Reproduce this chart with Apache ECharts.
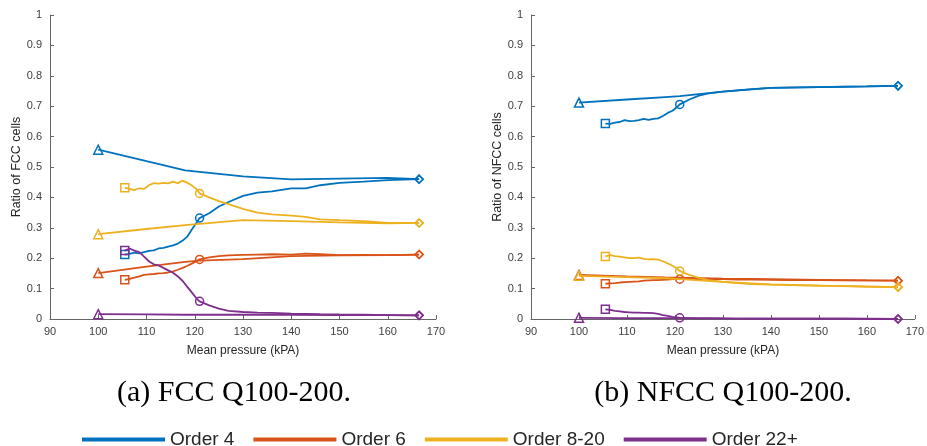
<!DOCTYPE html>
<html>
<head>
<meta charset="utf-8">
<script src="https://cdn.jsdelivr.net/npm/echarts@6/dist/echarts.min.js"></script>
<style>
html,body{margin:0;padding:0;background:#fff;}
#chart{width:927px;height:446px;}
</style>
</head>
<body>
<div id="chart"></div>
<script>
// ---------- data ----------
var seriesNames = ['Order 4', 'Order 6', 'Order 8-20', 'Order 22+'];
var colors = ['#0072BD', '#D95319', '#EDB120', '#7E2F8E'];
var xTicks = [90, 100, 110, 120, 130, 140, 150, 160, 170];
var yTicks = [0, 0.1, 0.2, 0.3, 0.4, 0.5, 0.6, 0.7, 0.8, 0.9, 1];

// x positions for the "triangle" path (starts at 100 kPa)
var xA = [100, 110, 118, 121, 130, 140, 150, 160, 166.5];
// x positions for the "square" path (starts at 105.5 kPa, circle at 121 kPa)
var xB = [105.5, 106.5, 107.5, 108.5, 109.5, 110.5, 111.5, 112.5, 113.5, 114.5, 115.5, 116.5, 117.5, 118.5, 119.5, 120.5,
          121, 123, 125, 127, 130, 133, 136, 140, 143, 146, 150, 155, 160, 166.5];
var circleX = 121;

// (a) FCC
var fccA_o4  = [0.557, 0.519, 0.489, 0.484, 0.469, 0.459, 0.462, 0.464, 0.460];
var fccA_o6  = [0.151, 0.172, 0.188, 0.192, 0.197, 0.207, 0.209, 0.210, 0.212];
var fccA_o8  = [0.279, 0.296, 0.309, 0.313, 0.325, 0.322, 0.318, 0.315, 0.316];
var fccA_o22 = [0.016, 0.015, 0.014, 0.014, 0.014, 0.014, 0.013, 0.013, 0.012];

var fccB_o4  = [0.212, 0.214, 0.218, 0.216, 0.220, 0.224, 0.226, 0.232, 0.234, 0.238, 0.242, 0.248, 0.258, 0.272, 0.297, 0.320,
                0.332, 0.348, 0.370, 0.385, 0.405, 0.416, 0.420, 0.430, 0.430, 0.440, 0.448, 0.452, 0.457, 0.460];
var fccB_o6  = [0.129, 0.132, 0.136, 0.140, 0.145, 0.147, 0.148, 0.150, 0.151, 0.153, 0.157, 0.162, 0.168, 0.175, 0.183, 0.192,
                0.196, 0.203, 0.207, 0.209, 0.211, 0.212, 0.213, 0.212, 0.215, 0.213, 0.210, 0.211, 0.210, 0.212];
var fccB_o8  = [0.432, 0.428, 0.424, 0.430, 0.428, 0.440, 0.447, 0.445, 0.448, 0.446, 0.452, 0.447, 0.455, 0.448, 0.438, 0.426,
                0.413, 0.400, 0.388, 0.378, 0.362, 0.350, 0.344, 0.340, 0.336, 0.328, 0.325, 0.322, 0.316, 0.316];
var fccB_o22 = [0.225, 0.232, 0.225, 0.220, 0.205, 0.190, 0.180, 0.176, 0.168, 0.160, 0.152, 0.140, 0.125, 0.105, 0.085, 0.065,
                0.058, 0.045, 0.034, 0.027, 0.023, 0.021, 0.020, 0.018, 0.017, 0.016, 0.015, 0.014, 0.013, 0.012];

// (b) NFCC
var nfccA_o4  = [0.712, 0.722, 0.730, 0.733, 0.748, 0.760, 0.763, 0.765, 0.767];
var nfccA_o6  = [0.145, 0.140, 0.137, 0.136, 0.133, 0.131, 0.129, 0.127, 0.126];
var nfccA_o8  = [0.142, 0.138, 0.134, 0.131, 0.122, 0.114, 0.110, 0.107, 0.105];
var nfccA_o22 = [0.004, 0.003, 0.003, 0.003, 0.002, 0.001, 0.001, 0.001, 0.000];

var nfccB_o4  = [0.643, 0.642, 0.646, 0.648, 0.654, 0.651, 0.652, 0.654, 0.658, 0.655, 0.658, 0.660, 0.668, 0.678, 0.685, 0.698,
                 0.706, 0.722, 0.735, 0.742, 0.748, 0.752, 0.756, 0.760, 0.761, 0.762, 0.763, 0.764, 0.765, 0.767];
var nfccB_o6  = [0.116, 0.117, 0.118, 0.120, 0.121, 0.122, 0.123, 0.124, 0.126, 0.127, 0.128, 0.128, 0.129, 0.130, 0.131, 0.131,
                 0.131, 0.131, 0.131, 0.131, 0.131, 0.130, 0.130, 0.129, 0.128, 0.128, 0.128, 0.127, 0.127, 0.126];
var nfccB_o8  = [0.206, 0.210, 0.207, 0.205, 0.203, 0.200, 0.200, 0.202, 0.198, 0.196, 0.197, 0.195, 0.190, 0.183, 0.175, 0.165,
                 0.158, 0.145, 0.135, 0.128, 0.122, 0.118, 0.115, 0.113, 0.112, 0.111, 0.110, 0.108, 0.106, 0.105];
var nfccB_o22 = [0.032, 0.030, 0.027, 0.025, 0.023, 0.022, 0.021, 0.021, 0.020, 0.020, 0.019, 0.017, 0.013, 0.010, 0.007, 0.005,
                 0.004, 0.003, 0.002, 0.002, 0.002, 0.001, 0.001, 0.001, 0.001, 0.001, 0.001, 0.001, 0.000, 0.000];

var captions = ['(a) FCC Q100-200.', '(b) NFCC Q100-200.'];
var yTitles = ['Ratio of FCC cells', 'Ratio of NFCC cells'];
var xTitle = 'Mean pressure (kPA)';

// ---------- build ----------
var FONT = '"Liberation Sans", Arial, Helvetica, sans-serif';
function markerItem(x, y, sym, color) {
  return {
    value: [x, y], symbol: sym, symbolSize: sym === 'triangle' ? 9 : 8,
    itemStyle: { color: 'rgba(255,255,255,0)', borderColor: color, borderWidth: 1.5 }
  };
}
function buildA(xs, ys, color) {
  return xs.map(function (x, i) {
    if (i === 0) return markerItem(x, ys[i], 'triangle', color);
    if (i === xs.length - 1) return markerItem(x, ys[i], 'diamond', color);
    return { value: [x, ys[i]], symbol: 'none' };
  });
}
function buildB(xs, ys, color) {
  return xs.map(function (x, i) {
    if (i === 0) return markerItem(x, ys[i], 'rect', color);
    if (x === circleX) return markerItem(x, ys[i], 'circle', color);
    if (i === xs.length - 1) return markerItem(x, ys[i], 'diamond', color);
    return { value: [x, ys[i]], symbol: 'none' };
  });
}
var panels = [
  { A: [fccA_o4, fccA_o6, fccA_o8, fccA_o22], B: [fccB_o4, fccB_o6, fccB_o8, fccB_o22] },
  { A: [nfccA_o4, nfccA_o6, nfccA_o8, nfccA_o22], B: [nfccB_o4, nfccB_o6, nfccB_o8, nfccB_o22] }
];
var series = [];
panels.forEach(function (p, pi) {
  for (var k = 0; k < 4; k++) {
    [['A', buildA(xA, p.A[k], colors[k])], ['B', buildB(xB, p.B[k], colors[k])]].forEach(function (d) {
      series.push({
        name: seriesNames[k], type: 'line', xAxisIndex: pi, yAxisIndex: pi,
        data: d[1], symbol: 'none', showSymbol: true, showAllSymbol: true,
        color: colors[k],
        lineStyle: { color: colors[k], width: 1.8 },
        animation: false, z: 2 + k
      });
    });
  }
});

var grids = [
  { left: 50, top: 15, width: 386, height: 304 },
  { left: 531, top: 15, width: 385, height: 304 }
];
function xAxis(i) {
  return {
    gridIndex: i, type: 'value', min: xTicks[0], max: xTicks[xTicks.length - 1], interval: 10,
    name: xTitle, nameLocation: 'middle', nameGap: 26,
    nameTextStyle: { fontFamily: FONT, fontSize: 12, color: '#262626' },
    axisLine: { lineStyle: { color: '#666', width: 1 } },
    axisTick: { inside: true, length: 4, lineStyle: { color: '#666' } },
    axisLabel: { fontFamily: FONT, fontSize: 11, color: '#404040', margin: 7 },
    splitLine: { show: false }
  };
}
function yAxis(i) {
  return {
    gridIndex: i, type: 'value', min: yTicks[0], max: yTicks[yTicks.length - 1], interval: 0.1,
    name: yTitles[i], nameLocation: 'middle', nameGap: 24, nameRotate: 90,
    nameTextStyle: { fontFamily: FONT, fontSize: 12.5, color: '#262626' },
    axisLine: { show: true, lineStyle: { color: '#666', width: 1 } },
    axisTick: { show: true, inside: true, length: 4, lineStyle: { color: '#666' } },
    axisLabel: {
      fontFamily: FONT, fontSize: 11, color: '#404040', margin: 8,
      formatter: function (v) { return (Math.round(v * 10) / 10).toString(); }
    },
    splitLine: { show: false }
  };
}

var chart = echarts.init(document.getElementById('chart'), null, { renderer: 'canvas' });
chart.setOption({
  backgroundColor: '#fff',
  animation: false,
  grid: grids,
  xAxis: [xAxis(0), xAxis(1)],
  yAxis: [yAxis(0), yAxis(1)],
  legend: {
    data: seriesNames.map(function (n) { return { name: n, icon: 'rect' }; }),
    left: 77, top: 425, itemWidth: 83, itemHeight: 4, itemGap: 19,
    textStyle: { fontFamily: FONT, fontSize: 19, color: '#262626' },
    selectedMode: false
  },
  graphic: [
    { type: 'text', x: 234, y: 393, style: { text: captions[0], fill: '#000', font: '30px "Liberation Serif", "Times New Roman", serif', textAlign: 'center', textVerticalAlign: 'middle' } },
    { type: 'text', x: 723, y: 393, style: { text: captions[1], fill: '#000', font: '30px "Liberation Serif", "Times New Roman", serif', textAlign: 'center', textVerticalAlign: 'middle' } }
  ],
  series: series
});
</script>
</body>
</html>
